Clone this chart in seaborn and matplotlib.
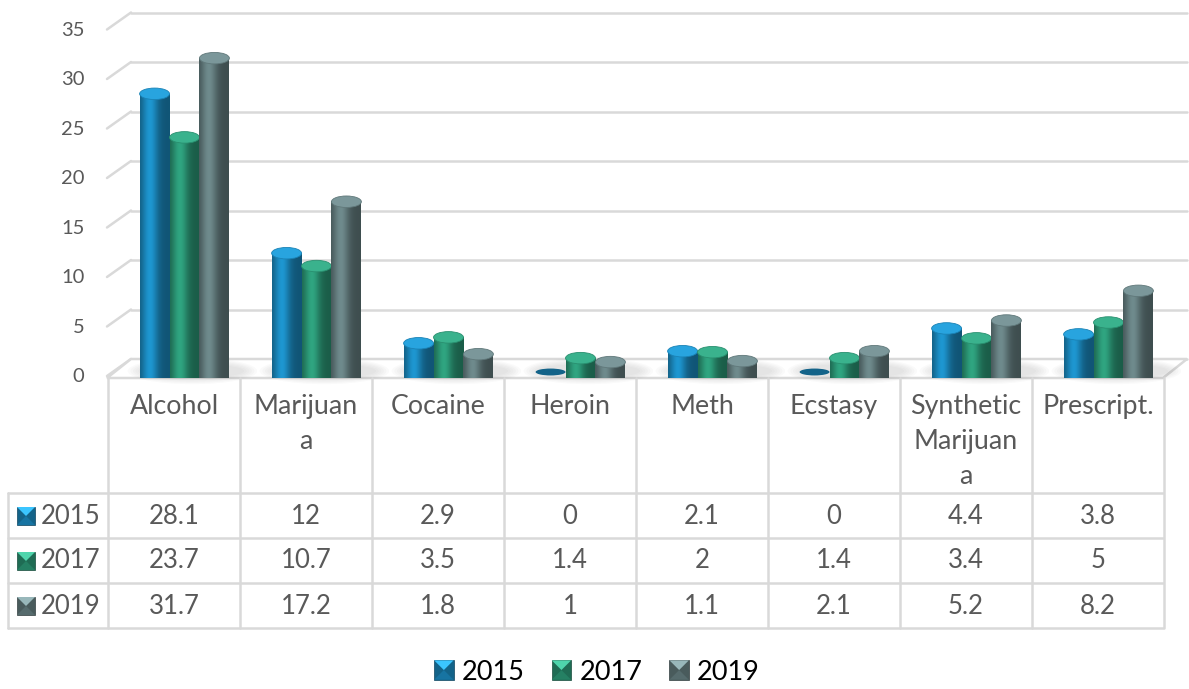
import numpy as np
import pandas as pd
import matplotlib
matplotlib.use("Agg")
import matplotlib.pyplot as plt
import seaborn as sns
from matplotlib.patches import Ellipse, Polygon, Rectangle, Patch
from matplotlib.lines import Line2D
from matplotlib.legend_handler import HandlerBase
from matplotlib.transforms import blended_transform_factory, ScaledTranslation

# ---- data -------------------------------------------------------------
drugs = ["Alcohol", "Marijuana", "Cocaine", "Heroin", "Meth", "Ecstasy",
         "Synthetic Marijuana", "Prescript."]
drug_labels = ["Alcohol", "Marijuan\na", "Cocaine", "Heroin", "Meth", "Ecstasy",
               "Synthetic\nMarijuan\na", "Prescript."]
years = ["2015", "2017", "2019"]
pct_2015 = [28.1, 12, 2.9, 0, 2.1, 0, 4.4, 3.8]
pct_2017 = [23.7, 10.7, 3.5, 1.4, 2, 1.4, 3.4, 5]
pct_2019 = [31.7, 17.2, 1.8, 1, 1.1, 2.1, 5.2, 8.2]
y_ticks = [0, 5, 10, 15, 20, 25, 30, 35]

series = {"2015": pct_2015, "2017": pct_2017, "2019": pct_2019}
df = pd.DataFrame([(d, y, v) for y in years for d, v in zip(drugs, series[y])],
                  columns=["drug", "year", "pct"])

colors = {"2015": "#1b89be", "2017": "#2b9675", "2019": "#657e80"}

# ---- style ------------------------------------------------------------
sns.set_theme(style="white")
plt.rcParams["font.family"] = ["Lato", "DejaVu Sans"]
TXT = "#595959"
GRID = "#d9d9d9"

W, H = 1189, 689
fig = plt.figure(figsize=(W / 100, H / 100), dpi=100)
fig.patch.set_facecolor("white")


def fx(px):
    return px / W


def fy(py):
    return 1 - py / H


PX_PER_UNIT = 9.9          # vertical pixels per percentage point
COL = 132.0                # pixels per category column
ax_left, ax_right, ax_top, ax_base = 108, 1164, 10, 372
ax = fig.add_axes([fx(ax_left), fy(ax_base), fx(ax_right - ax_left),
                   (ax_base - ax_top) / H])
ax.patch.set_alpha(0)
for s in ax.spines.values():
    s.set_visible(False)


def dx(px):
    return -0.5 + (px - ax_left) / COL


def dy(py):
    return (ax_base - py) / PX_PER_UNIT


# back wall gridlines with the short receding segment on the left
back_off = 13 / PX_PER_UNIT
front_off = -4 / PX_PER_UNIT
for v in y_ticks:
    ax.plot([dx(131), dx(1187)], [v + back_off, v + back_off], color=GRID,
            lw=1.8, clip_on=False, zorder=1)
    ax.plot([dx(107), dx(131)], [v + front_off, v + back_off], color=GRID,
            lw=1.8, clip_on=False, zorder=1)

# floor
floor = Polygon([[dx(107), dy(378)], [dx(1163), dy(378)],
                 [dx(1187), dy(359)], [dx(131), dy(359)]],
                closed=True, facecolor="white", edgecolor=GRID, lw=1.8,
                clip_on=False, zorder=1.5)
ax.add_patch(floor)

# ---- bars -------------------------------------------------------------
sns.barplot(data=df, x="drug", y="pct", hue="year", order=drugs,
            hue_order=years, palette=colors, width=0.68, saturation=1,
            legend=False, ax=ax)

shift = 10.5 / COL
ell_h = 11.5 / PX_PER_UNIT
t = np.linspace(0, 1, 80)
shade = 0.62 + 0.48 * np.exp(-((t - 0.33) / 0.27) ** 2)

# soft floor shadows behind each group
for i in range(len(drugs)):
    for k in range(6):
        sh = Ellipse((i + shift + 0.06, 0.1), 0.78 + 0.04 * k, 1.4 + 0.25 * k,
                     facecolor="#7f7f7f", alpha=0.035, edgecolor="none",
                     zorder=1.8, clip_on=False)
        ax.add_patch(sh)

for ci, (cont, yr) in enumerate(zip(ax.containers, years)):
    base = np.array(matplotlib.colors.to_rgb(colors[yr]))
    for bar in cont:
        bar.set_x(bar.get_x() + shift)
        x0, w, h = bar.get_x(), bar.get_width(), bar.get_height()
        bar.set_visible(False)
        z = 3 + ci
        if h > 0:
            img = np.clip(base[None, None, :] * shade[None, :, None], 0, 1)
            # body outline: straight sides and rounded bottom
            th = np.linspace(np.pi, 2 * np.pi, 40)
            bottom = np.column_stack([x0 + w / 2 + w / 2 * np.cos(th),
                                      ell_h / 2 * np.sin(th)])
            verts = np.vstack([[x0, h], [x0, 0], bottom, [x0 + w, h], [x0, h]])
            clip = Polygon(verts, closed=True, transform=ax.transData,
                           facecolor="none", edgecolor="none")
            ax.add_patch(clip)
            im = ax.imshow(img, extent=(x0, x0 + w, -ell_h / 2, h),
                           aspect="auto", zorder=z, interpolation="bilinear",
                           clip_on=False)
            im.set_clip_path(clip)
            top_col = np.clip(base * 1.12 + 0.04, 0, 1)
            cap = Ellipse((x0 + w / 2, h), w, ell_h, facecolor=top_col,
                          edgecolor=np.clip(base * 0.95, 0, 1), lw=0.6,
                          zorder=z + 0.1, clip_on=False)
        else:
            cap = Ellipse((x0 + w / 2, h), w, ell_h * 0.6,
                          facecolor=base * 0.72, edgecolor="none",
                          zorder=z + 0.1, clip_on=False)
        ax.add_patch(cap)

ax.set_xlim(-0.5, 7.5)
ax.set_ylim(0, (ax_base - ax_top) / PX_PER_UNIT)
ax.set_xticks([])
ax.set_xlabel("")
ax.set_ylabel("")
ax.set_yticks(y_ticks)
ax.set_yticklabels([str(v) for v in y_ticks])
ax.tick_params(axis="y", length=0, pad=17, labelsize=14.5, labelcolor=TXT)
for lbl in ax.get_yticklabels():
    lbl.set_transform(lbl.get_transform()
                      + ScaledTranslation(0, -3 / 100, fig.dpi_scale_trans))

# ---- data table -------------------------------------------------------
tx = blended_transform_factory(ax.transData, fig.transFigure)
row_y = [493, 538, 583, 628]
for i in range(len(drugs) + 1):
    fig.add_artist(Line2D([i - 0.5, i - 0.5], [fy(378), fy(628)],
                          transform=tx, color=GRID, lw=1.8))
fig.add_artist(Line2D([fx(8), fx(8)], [fy(493), fy(628)],
                      transform=fig.transFigure, color=GRID, lw=1.8))
for ry in row_y:
    fig.add_artist(Line2D([fx(8), fx(1163)], [fy(ry), fy(ry)],
                          transform=fig.transFigure, color=GRID, lw=1.8))

for i, lab in enumerate(drug_labels):
    fig.text(i, fy(394), lab, transform=tx, ha="center", va="top",
             fontsize=19.3, color=TXT, linespacing=1.5)

centers = [516, 561, 606]


def fmt(v):
    return f"{v:g}"


def bevel_square(x, y, sx, sy, base, transform):
    base = np.array(matplotlib.colors.to_rgb(base))
    dark = base * 0.72
    light = np.clip(base * 1.25 + 0.1, 0, 1)
    sq = Rectangle((x, y), sx, sy, facecolor=dark, edgecolor=base * 0.5,
                   lw=0.5, transform=transform)
    sides = Polygon([[x, y], [x + sx, y], [x + sx / 2, y + sy / 2]],
                    closed=True, facecolor=base * 0.85, edgecolor="none",
                    transform=transform)
    tri = Polygon([[x, y + sy], [x + sx, y + sy], [x + sx / 2, y + sy / 2]],
                  closed=True, facecolor=light, edgecolor="none",
                  transform=transform)
    return [sq, sides, tri]


for r, yr in enumerate(years):
    cy = centers[r]
    for art in bevel_square(fx(17), fy(cy + 9), 18 / W, 18 / H, colors[yr],
                            fig.transFigure):
        fig.add_artist(art)
    fig.text(fx(41), fy(cy), yr, ha="left", va="center", fontsize=18.5,
             color=TXT)
    for i, v in enumerate(series[yr]):
        fig.text(i, fy(cy), fmt(v), transform=tx, ha="center", va="center",
                 fontsize=18.5, color=TXT)


# ---- legend -----------------------------------------------------------
class BevelHandler(HandlerBase):
    def create_artists(self, legend, orig_handle, xdescent, ydescent, width,
                       height, fontsize, trans):
        s = min(width, height)
        x = -xdescent + (width - s) / 2
        y = -ydescent + (height - s) / 2
        return bevel_square(x, y, s, s, orig_handle.get_facecolor()[:3], trans)


handles = [Patch(facecolor=colors[y], label=y) for y in years]
fig.legend(handles=handles, labels=years, loc="center",
           bbox_to_anchor=(fx(597), fy(672)), ncol=3, frameon=False,
           fontsize=19.5, handlelength=0.72, handleheight=0.72,
           handletextpad=0.3, columnspacing=1.0,
           handler_map={Patch: BevelHandler()},
           labelcolor="black")

fig.savefig("out.png", dpi=100, facecolor="white")
